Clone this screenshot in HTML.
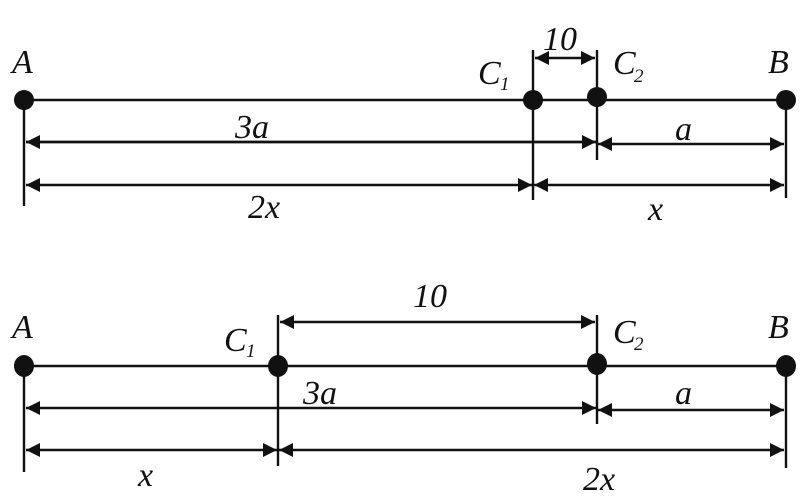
<!DOCTYPE html>
<html><head><meta charset="utf-8"><style>
html,body{margin:0;padding:0;background:#fff;}
svg{display:block}
text{font-family:"Liberation Serif",serif;font-style:italic;font-size:34px;fill:#111}
.s{font-size:19px}
</style></head><body>
<svg width="808" height="498" viewBox="0 0 808 498" xmlns="http://www.w3.org/2000/svg">
<defs>
<marker id="ar" viewBox="0 0 10 10" refX="10" refY="5" markerWidth="18" markerHeight="14" markerUnits="userSpaceOnUse" orient="auto-start-reverse">
<path d="M0,0 L10,5 L0,10 z" fill="#111"/></marker>
</defs>
<g stroke="#111" stroke-width="2.4" fill="none">
<line x1="24" y1="100" x2="786" y2="100"/>
<line x1="24" y1="100" x2="24" y2="206"/>
<line x1="533" y1="50" x2="533" y2="200"/>
<line x1="597" y1="50" x2="597" y2="160"/>
<line x1="786" y1="100" x2="786" y2="198"/>
<line x1="535" y1="58" x2="595" y2="58" marker-start="url(#ar)" marker-end="url(#ar)"/>
<line x1="26" y1="142" x2="596" y2="142" stroke-width="2.8" marker-start="url(#ar)" marker-end="url(#ar)"/>
<line x1="598" y1="144" x2="784" y2="144" marker-start="url(#ar)" marker-end="url(#ar)"/>
<line x1="26" y1="185" x2="532" y2="185" marker-start="url(#ar)" marker-end="url(#ar)"/>
<line x1="534" y1="185" x2="784" y2="185" marker-start="url(#ar)" marker-end="url(#ar)"/>
<line x1="24" y1="366" x2="786" y2="366"/>
<line x1="24" y1="366" x2="24" y2="472"/>
<line x1="278" y1="315" x2="278" y2="466"/>
<line x1="597" y1="315" x2="597" y2="424"/>
<line x1="786" y1="366" x2="786" y2="468"/>
<line x1="280" y1="322" x2="595" y2="322" marker-start="url(#ar)" marker-end="url(#ar)"/>
<line x1="26" y1="408" x2="596" y2="408" marker-start="url(#ar)" marker-end="url(#ar)"/>
<line x1="598" y1="410" x2="784" y2="410" marker-start="url(#ar)" marker-end="url(#ar)"/>
<line x1="26" y1="450" x2="277" y2="450" marker-start="url(#ar)" marker-end="url(#ar)"/>
<line x1="279" y1="450" x2="784" y2="450" marker-start="url(#ar)" marker-end="url(#ar)"/>
</g>
<g fill="#111">
<circle cx="24" cy="100" r="10"/><circle cx="533" cy="100" r="10"/><circle cx="597" cy="97" r="10"/><circle cx="786" cy="100" r="10"/>
<ellipse cx="24" cy="366" rx="10" ry="11"/><ellipse cx="278" cy="366" rx="10" ry="11"/><ellipse cx="597" cy="364" rx="10" ry="11"/><ellipse cx="786" cy="366" rx="10" ry="11"/>
</g>
<text x="12" y="73">A</text>
<text x="478" y="84">C</text><text x="500" y="90" class="s">1</text>
<text x="543" y="50">10</text>
<text x="613" y="74">C</text><text x="634" y="82" class="s">2</text>
<text x="768" y="73">B</text>
<text x="235" y="138">3a</text>
<text x="675" y="140">a</text>
<text x="248" y="218">2x</text>
<text x="648" y="220">x</text>
<text x="12" y="338">A</text>
<text x="224" y="351">C</text><text x="246" y="357" class="s">1</text>
<text x="413" y="307">10</text>
<text x="613" y="343">C</text><text x="634" y="350" class="s">2</text>
<text x="768" y="338">B</text>
<text x="303" y="404">3a</text>
<text x="675" y="404">a</text>
<text x="138" y="486">x</text>
<text x="583" y="490">2x</text>
</svg>
</body></html>
